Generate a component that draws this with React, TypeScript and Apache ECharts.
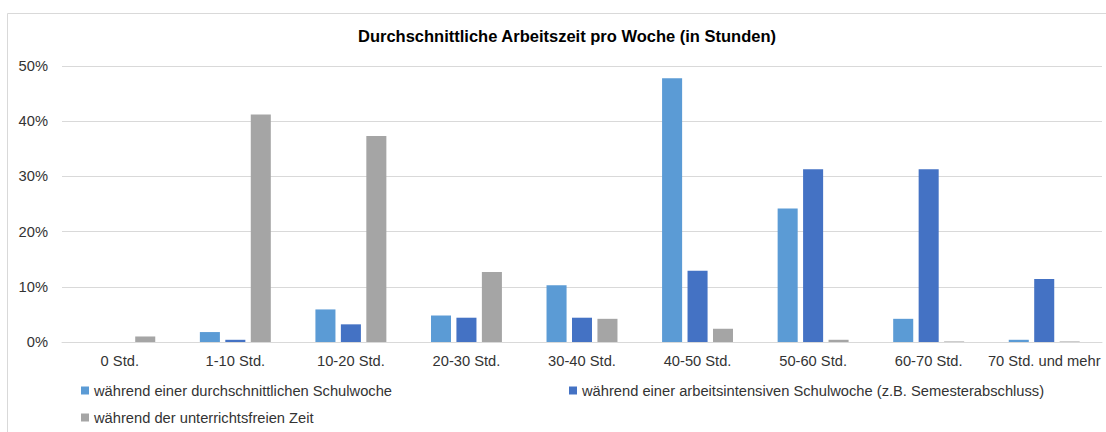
import React, { useEffect, useRef } from "react";
import * as echarts from "echarts";

const categories = [
  "0 Std.",
  "1-10 Std.",
  "10-20 Std.",
  "20-30 Std.",
  "30-40 Std.",
  "40-50 Std.",
  "50-60 Std.",
  "60-70 Std.",
  "70 Std. und mehr",
];

const seriesNames = [
  "während einer durchschnittlichen Schulwoche",
  "während einer arbeitsintensiven Schulwoche (z.B. Semesterabschluss)",
  "während der unterrichtsfreien Zeit",
];

const avgWeek = [0, 1.8, 5.9, 4.8, 10.3, 47.8, 24.2, 4.2, 0.4];
const intensiveWeek = [0, 0.4, 3.2, 4.4, 4.4, 12.9, 31.3, 31.3, 11.4];
const freeTime = [1.0, 41.2, 37.3, 12.7, 4.2, 2.4, 0.4, 0.1, 0.1];

const colors = ["#5B9BD5", "#4472C4", "#A5A5A5"];

const FONT = '"Liberation Sans", Arial, sans-serif';
const TEXT = "#333333";

export default function App() {
  const ref = useRef<HTMLDivElement>(null);

  useEffect(() => {
    if (!ref.current) return;
    const chart = echarts.init(ref.current, undefined, { renderer: "svg" });
    const legendBase = {
      itemWidth: 8,
      itemHeight: 8,
      icon: "rect",
      orient: "horizontal",
      padding: 0,
      textStyle: { fontFamily: FONT, fontSize: 14.7, color: TEXT },
      selectedMode: false,
    };
    chart.setOption({
      animation: false,
      textStyle: { fontFamily: FONT },
      title: {
        text: "Durchschnittliche Arbeitszeit pro Woche (in Stunden)",
        left: 562,
        textAlign: "center",
        top: 22,
        textStyle: { fontFamily: FONT, fontSize: 16.5, fontWeight: "bold", color: "#000000" },
      },
      graphic: [
        {
          type: "rect",
          shape: { x: 7.5, y: 13.5, width: 1130, height: 450 },
          style: { fill: "none", stroke: "#D9D9D9", lineWidth: 1 },
          silent: true,
          z: -10,
        },
      ],
      legend: [
        { ...legendBase, data: [seriesNames[0]], left: 81, top: 383 },
        { ...legendBase, data: [seriesNames[1]], left: 569, top: 383 },
        { ...legendBase, data: [seriesNames[2]], left: 81, top: 410 },
      ],
      grid: { left: 62, right: 4, top: 66, bottom: 90, containLabel: false },
      xAxis: {
        type: "category",
        data: categories,
        axisLine: { lineStyle: { color: "#D9D9D9", width: 1 } },
        axisTick: { show: false },
        axisLabel: {
          interval: 0,
          margin: 11,
          fontFamily: FONT,
          fontSize: 14.7,
          color: TEXT,
        },
      },
      yAxis: {
        type: "value",
        min: 0,
        max: 50,
        interval: 10,
        axisLine: { show: false },
        axisTick: { show: false },
        splitLine: { lineStyle: { color: "#D9D9D9", width: 1 } },
        axisLabel: {
          formatter: "{value}%",
          margin: 14,
          fontFamily: FONT,
          fontSize: 14.7,
          color: TEXT,
        },
      },
      series: [
        {
          name: seriesNames[0],
          type: "bar",
          data: avgWeek,
          itemStyle: { color: colors[0] },
          barGap: "27%",
          barCategoryGap: "38.6%",
        },
        {
          name: seriesNames[1],
          type: "bar",
          data: intensiveWeek,
          itemStyle: { color: colors[1] },
          barGap: "27%",
          barCategoryGap: "38.6%",
        },
        {
          name: seriesNames[2],
          type: "bar",
          data: freeTime,
          itemStyle: { color: colors[2] },
          barGap: "27%",
          barCategoryGap: "38.6%",
        },
      ],
    });
    return () => chart.dispose();
  }, []);

  return (
    <div
      ref={ref}
      style={{ position: "absolute", left: 0, top: 0, width: 1106, height: 432, background: "#ffffff" }}
    />
  );
}
